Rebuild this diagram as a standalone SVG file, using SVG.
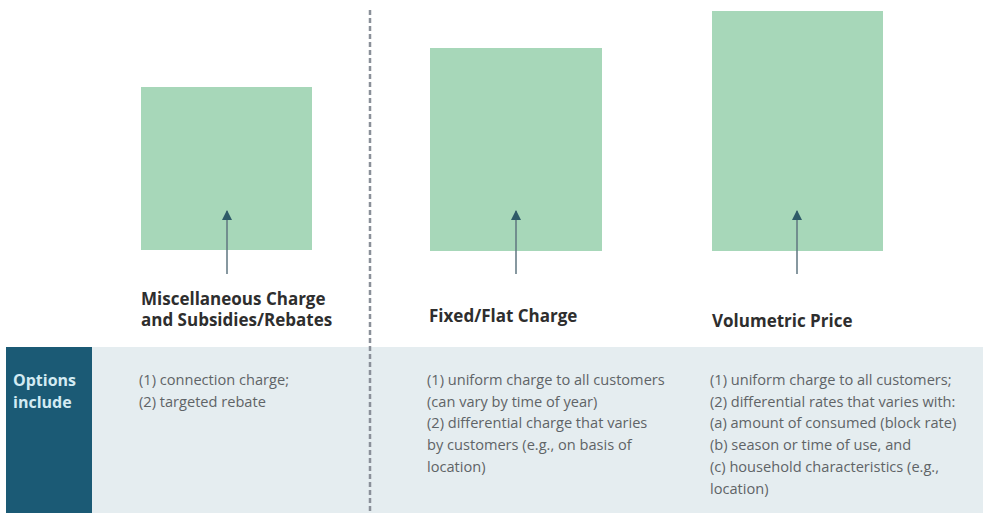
<svg xmlns="http://www.w3.org/2000/svg" width="983" height="513" viewBox="0 0 983 513">
<style>
.bar{fill:#a7d7b9}
.head{font-family:"Open Sans","Liberation Sans",sans-serif;font-weight:bold;font-size:17px;fill:#2e2e2e}
.body{font-family:"Open Sans","Liberation Sans",sans-serif;font-size:14.6px;fill:#5f6467}
.opt{font-family:"Open Sans","Liberation Sans",sans-serif;font-weight:bold;font-size:16px;fill:#d3ebf3}
.arrow{stroke:#5f7680;stroke-width:1.5;fill:none}
</style>
<defs>
<marker id="ah" viewBox="0 0 10 10" refX="9" refY="5" markerWidth="10" markerHeight="10" orient="auto" markerUnits="userSpaceOnUse">
<path d="M0,0 L10,5 L0,10 z" fill="#2f5b68"/>
</marker>
</defs>
<rect width="983" height="513" fill="#ffffff"/>
<rect id="band" x="92" y="347" width="891" height="166" fill="#e5edf0"/>
<g id="options">
<rect x="6" y="347" width="86" height="166" fill="#1b5a75"/>
<text class="opt" x="13" y="386">Options</text>
<text class="opt" x="13" y="408">include</text>
</g>
<line id="divider" x1="370" y1="10" x2="370" y2="513" stroke="#8a9099" stroke-width="2.5" stroke-dasharray="5,3"/>
<g id="misc">
<rect class="bar" x="141" y="87" width="171" height="163"/>
<text class="head" x="141" y="305">Miscellaneous Charge</text>
<text class="head" x="141" y="326">and Subsidies/Rebates</text>
<text class="body" x="139" y="385">(1) connection charge;</text>
<text class="body" x="139" y="407">(2) targeted rebate</text>
</g>
<g id="fixed">
<rect class="bar" x="430" y="48" width="172" height="203"/>
<text class="head" x="429" y="322">Fixed/Flat Charge</text>
<text class="body" x="427" y="385">(1) uniform charge to all customers</text>
<text class="body" x="427" y="406.7">(can vary by time of year)</text>
<text class="body" x="427" y="428.4">(2) differential charge that varies</text>
<text class="body" x="427" y="450.1">by customers (e.g., on basis of</text>
<text class="body" x="427" y="471.8">location)</text>
</g>
<g id="volumetric">
<rect class="bar" x="712" y="11" width="171" height="240"/>
<text class="head" x="712" y="327">Volumetric Price</text>
<text class="body" x="710" y="385">(1) uniform charge to all customers;</text>
<text class="body" x="710" y="406.7">(2) differential rates that varies with:</text>
<text class="body" x="710" y="428.4">(a) amount of consumed (block rate)</text>
<text class="body" x="710" y="450.1">(b) season or time of use, and</text>
<text class="body" x="710" y="471.8">(c) household characteristics (e.g.,</text>
<text class="body" x="710" y="493.5">location)</text>
</g>
<g id="connectors">
<line class="arrow" x1="227" y1="274" x2="227" y2="211" marker-end="url(#ah)"/>
<line class="arrow" x1="516" y1="274" x2="516" y2="211" marker-end="url(#ah)"/>
<line class="arrow" x1="797" y1="274" x2="797" y2="211" marker-end="url(#ah)"/>
</g>
</svg>
